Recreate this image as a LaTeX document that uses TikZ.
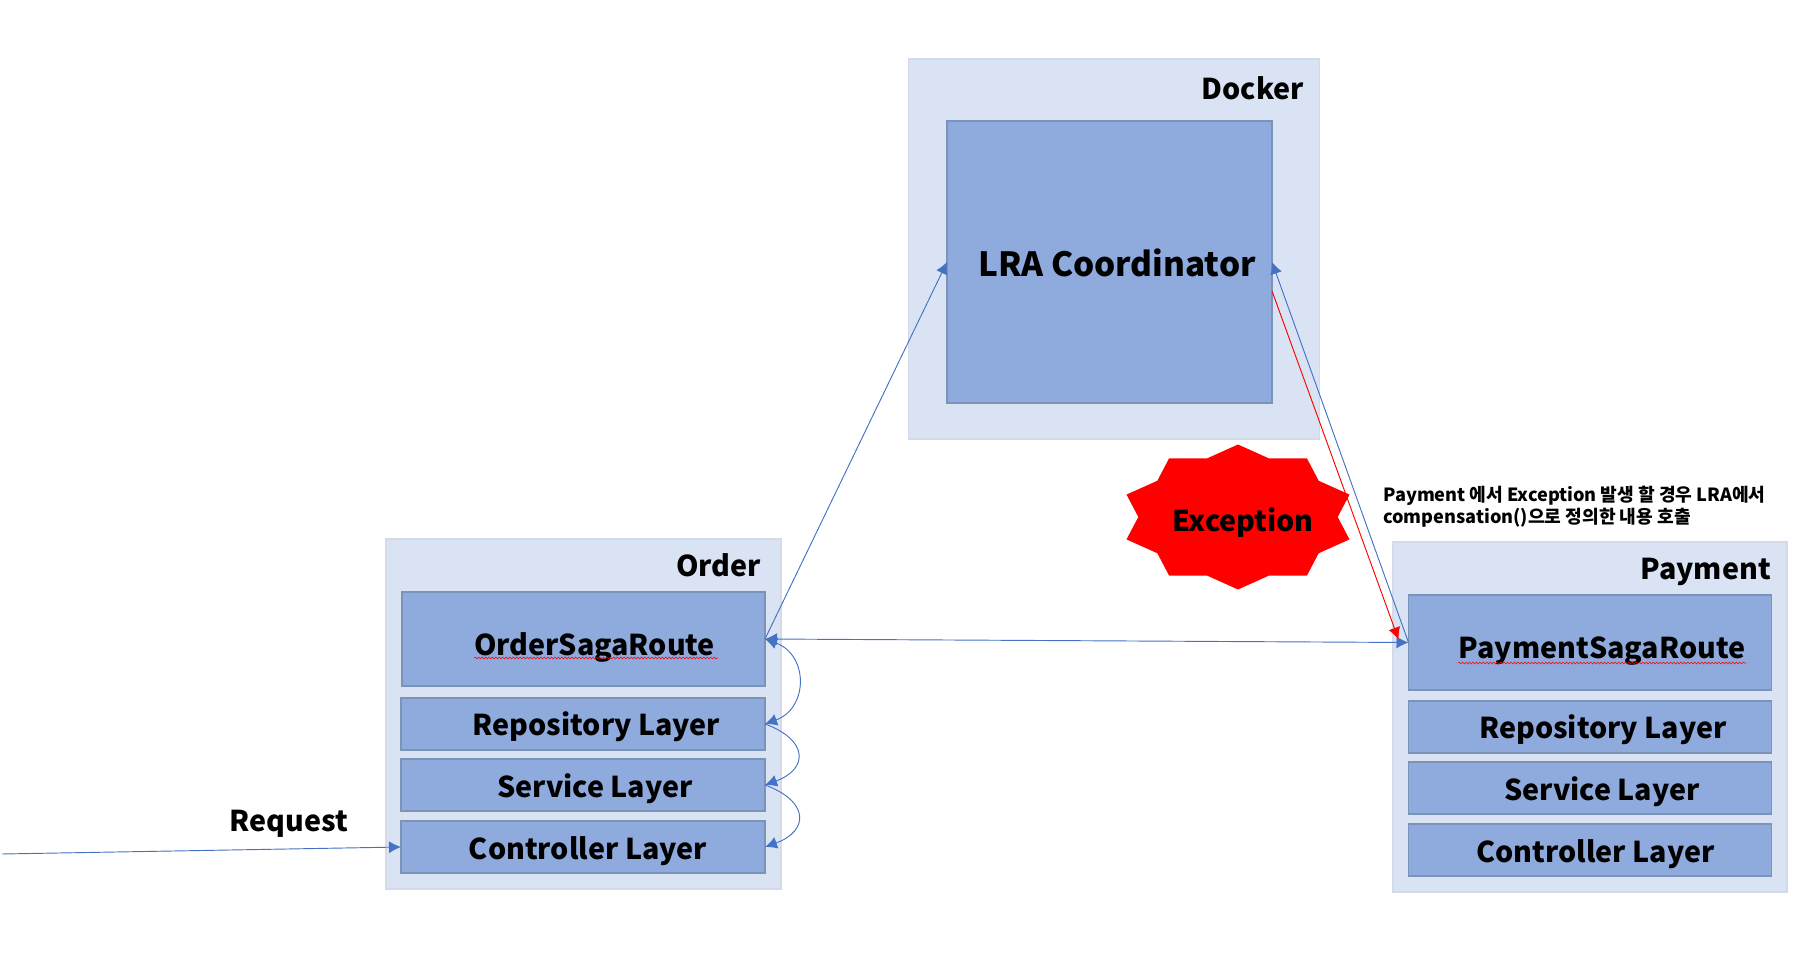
\documentclass[tikz,border=0pt]{standalone}
\usepackage{fontspec}
\setmainfont{Noto Sans CJK KR}
\usetikzlibrary{arrows.meta,shapes.geometric,decorations.pathmorphing}
\definecolor{hostfill}{HTML}{DAE3F3}
\definecolor{hostline}{HTML}{D3DAE8}
\definecolor{boxfill}{HTML}{8FAADC}
\definecolor{boxline}{HTML}{7C93B8}
\definecolor{flowblue}{HTML}{4472C4}
\tikzset{
	hostbox/.style={draw=hostline,fill=hostfill,line width=1.2pt,minimum width=#1*0.75pt,minimum height=262.5pt},
	innerbox/.style={draw=boxline,fill=boxfill,line width=1.4pt,outer sep=0pt,minimum width=#1*0.75pt},
	layerbox/.style={innerbox=364,minimum height=39pt},
	sagabox/.style={innerbox=#1,minimum height=71pt},
	caption/.style={font=\bfseries\fontsize{21.5pt}{21.5pt}\selectfont,inner sep=0pt,yshift=-1pt},
	flow/.style={flowblue,line width=.7pt,>={Latex[length=9pt,width=9pt]}},
	squiggle/.style={red,line width=.4pt,decorate,decoration={snake,amplitude=.7pt,segment length=2.6pt}}
}
\begin{document}
\begin{tikzpicture}[x=.75pt,y=.75pt]
	\useasboundingbox (0,0) rectangle (1803,958);
	% docker
	\node[hostbox=411,minimum height=285pt] (docker) at (1114,709) {};
	\node[innerbox=325,minimum height=211.5pt] (lra) at (1109.5,696) {};
	\node[caption,anchor=base east] (dockertext) at (1304,860) {Docker};
	\node[caption,font=\bfseries\fontsize{25pt}{25pt}\selectfont,anchor=base] (lratext) at (1117,683) {LRA Coordinator};
	% order
	\node[hostbox=395] (order) at (583.5,244) {};
	\node[sagabox=363] (ordersaga) at (583.5,319) {};
	\node[layerbox] (orderrepo) at (583,234) {};
	\node[layerbox] (orderservice) at (583,173) {};
	\node[layerbox] (ordercontrol) at (583,111) {};
	\node[caption,anchor=base east] (ordertext) at (761,383) {Order};
	\node[caption,anchor=base] (ordersagatext) at (594.5,304) {OrderSagaRoute};
	\node[caption,anchor=base] (orderrepotext) at (596.5,224) {Repository Layer};
	\node[caption,anchor=base] (orderservicetext) at (595,162) {Service Layer};
	\node[caption,anchor=base] (ordercontroltext) at (588,100) {Controller Layer};
	\draw[squiggle] (474,300) -- (718,300);
	% payment
	\node[hostbox=394] (payment) at (1590,241) {};
	\node[sagabox=363] (paysaga) at (1590,315.5) {};
	\node[layerbox,minimum width=272.25pt] (payrepo) at (1590,231) {};
	\node[layerbox,minimum width=272.25pt] (payservice) at (1590,170) {};
	\node[layerbox,minimum width=272.25pt] (paycontrol) at (1590,108) {};
	\node[caption,anchor=base east] (paymenttext) at (1771,380) {Payment};
	\node[caption,anchor=base] (paysagatext) at (1602,301) {PaymentSagaRoute};
	\node[caption,anchor=base] (payrepotext) at (1603,221) {Repository Layer};
	\node[caption,anchor=base] (payservicetext) at (1602,159) {Service Layer};
	\node[caption,anchor=base] (paycontroltext) at (1595.5,97) {Controller Layer};
	\draw[squiggle] (1458,295) -- (1746,295);
	% exception
	\node[star,star points=10,star point ratio=1.176,fill=red,inner sep=0pt,minimum size=108.75pt,xscale=1.617] (burst) at (1238,441) {};
	\node[caption,anchor=base] (bursttext) at (1243,428) {Exception};
	\node[font=\fontsize{13.6pt}{16.5pt}\selectfont\bfseries,align=left,inner sep=0pt,anchor=base west] (note) at (1383,434.5) {Payment 에서 Exception 발생 할 경우 LRA에서\\compensation()으로 정의한 내용 호출};
	% request
	\coordinate (client) at (2,104);
	\node[caption,anchor=base] (requesttext) at (289,128) {Request};
	% flows
	\draw[flow,->] (client) -- (ordercontrol.west);
	\draw[flow,->] (ordersaga.east) -- (lra.west);
	\draw[flow,->] (paysaga.west) -- (lra.east);
	\draw[flow,<->] (ordersaga.east) -- (paysaga.west);
	\draw[red,line width=.7pt,-{Latex[length=9pt,width=9pt]}] ([yshift=-29*.75pt]lra.east) -- ([xshift=-10*.75pt,yshift=3*.75pt]paysaga.west);
	\draw[flow,<->] (ordersaga.east) to[out=-20,in=20,looseness=1.4] (orderrepo.east);
	\draw[flow,->] (orderrepo.east) to[out=-20,in=20,looseness=1.95] (orderservice.east);
	\draw[flow,->] (orderservice.east) to[out=-20,in=20,looseness=1.95] (ordercontrol.east);
\end{tikzpicture}
\end{document}
